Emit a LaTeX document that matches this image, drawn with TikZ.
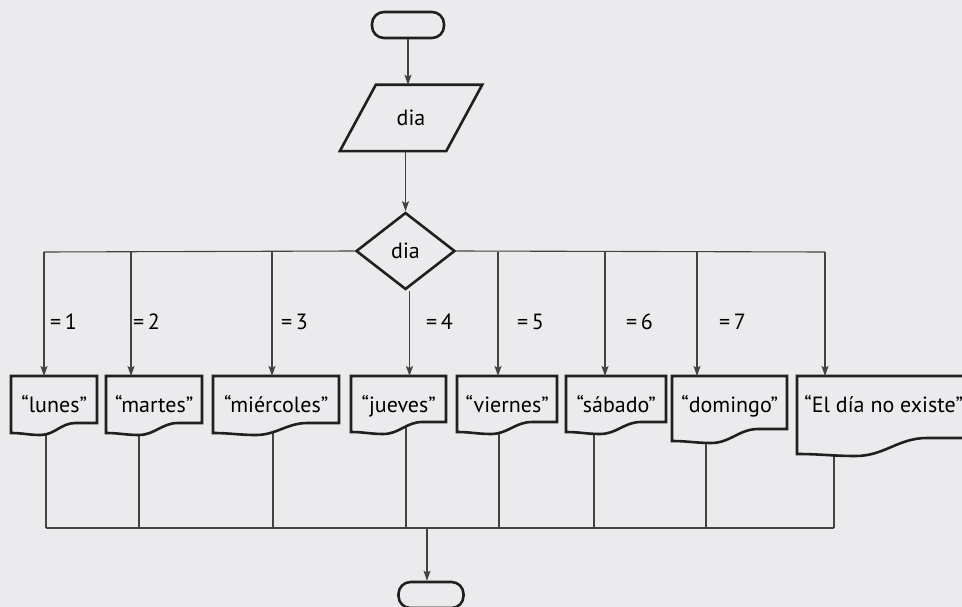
\documentclass[tikz,border=0pt]{standalone}
\usepackage{fontspec}
\setmainfont{PT Sans}
\usetikzlibrary{shapes.geometric,arrows.meta,calc}
\definecolor{fondo}{RGB}{235,235,237}
\definecolor{trazo}{RGB}{35,31,32}
\pgfdeclarelayer{background}
\pgfsetlayers{background,main}
\tikzset{
  forma/.style={draw=trazo,line width=2.6pt},
  linea/.style={draw=trazo!85,line width=1.1pt},
  flecha/.style={linea,-{Stealth[length=10pt,width=7pt,inset=2pt]}},
  terminal/.style={forma,rounded corners=12pt,minimum height=26pt,inner sep=0pt},
  decision/.style={forma,diamond,aspect=1.29,minimum width=99pt,minimum height=77pt,inner sep=0pt},
  salida/.style={anchor=north west,inner sep=0pt,minimum height=47pt,text height=27pt,text depth=2pt},
  caso/.style={anchor=west,inner sep=0pt}
}
% nombre, x izq, x der, caida der, caida extra izq, texto
\newcommand{\docsalida}[6]{%
  \pgfmathsetmacro\docxr{#2+0.75*(#3-#2)}
  \pgfmathsetmacro\docxd{#2+0.34*(#3-#2)}
  \pgfmathsetmacro\docyr{376+#4}
  \pgfmathsetmacro\docyd{376+#4+#5+2}
  \pgfmathsetmacro\docyl{376+#4+#5}
  \pgfmathsetmacro\docw{#3-#2}
  \draw[forma,fill=fondo] (#2,376) -- (#3,376) -- (#3,\docyr) -- (\docxr,\docyr)
    to[out=180,in=0] (\docxd,\docyd) to[out=180,in=0] (#2,\docyl) -- cycle;
  \node[salida,minimum width=\docw pt] (#1) at (#2,376) {#6};
}
\begin{document}
\begin{tikzpicture}[x=1pt,y=-1pt,font=\fontsize{22}{26}\selectfont]
  \begin{pgfonlayer}{background}
    \fill[fondo] (0,0) rectangle (962,607);
  \end{pgfonlayer}
  \useasboundingbox (0,0) rectangle (962,607);

  \node[terminal,minimum width=72pt] (inicio) at (408,25) {};
  \node[minimum width=106pt,minimum height=66pt,inner sep=0pt] (entrada) at (411,118) {dia};
  \draw[forma] ($(entrada.north west)+(18,0)$) -- ($(entrada.north east)+(18,0)$)
    -- ($(entrada.south east)+(-18,0)$) -- ($(entrada.south west)+(-18,0)$) -- cycle;
  \node[decision] (cond) at (405.5,251) {dia};

  \docsalida{lunes}{11}{97}{47}{10}{“lunes”}
  \docsalida{martes}{106}{202}{47}{10}{“martes”}
  \docsalida{miercoles}{213}{339}{47}{10}{“miércoles”}
  \docsalida{jueves}{351}{446}{46}{10}{“jueves”}
  \docsalida{viernes}{457}{557}{46}{10}{“viernes”}
  \docsalida{sabado}{566}{666}{46}{10}{“sábado”}
  \docsalida{domingo}{672}{787}{53}{12}{“domingo”}
  \docsalida{otro}{797}{970}{62}{16}{“El día no existe”}

  \node[terminal,minimum width=65pt] (fin) at (431,595) {};

  \draw[flecha] (inicio) -- (inicio |- entrada.north);
  \draw[flecha] (cond.north |- entrada.south) -- (cond.north);

  \coordinate (a1) at (44,252);
  \coordinate (a2) at (131,252);
  \coordinate (a3) at (272,252);
  \coordinate (a5) at (498,252);
  \coordinate (a6) at (605,252);
  \coordinate (a7) at (697,252);
  \coordinate (a8) at (825,252);
  \draw[linea] (a1) -- (cond.west) (cond.east) -- (a8);
  \draw[flecha] (a1) -- (a1 |- lunes.north);
  \draw[flecha] (a2) -- (a2 |- martes.north);
  \draw[flecha] (a3) -- (a3 |- miercoles.north);
  \draw[flecha] ($(cond.south)+(4,0)$) -- ($(cond.south |- jueves.north)+(4,0)$);
  \draw[flecha] (a5) -- (a5 |- viernes.north);
  \draw[flecha] (a6) -- (a6 |- sabado.north);
  \draw[flecha] (a7) -- (a7 |- domingo.north);
  \draw[flecha] (a8) -- (a8 |- otro.north);

  \node[caso] (c1) at (50,322) {=\,1};
  \node[caso] (c2) at (133,322) {=\,2};
  \node[caso] (c3) at (281,322) {=\,3};
  \node[caso] (c4) at (426,322) {=\,4};
  \node[caso] (c5) at (517,322) {=\,5};
  \node[caso] (c6) at (626,322) {=\,6};
  \node[caso] (c7) at (719,322) {=\,7};

  \coordinate (b1) at (46,528);
  \coordinate (b2) at (139,528);
  \coordinate (b3) at (273,528);
  \coordinate (b4) at (406,528);
  \coordinate (b5) at (499,528);
  \coordinate (b6) at (594,528);
  \coordinate (b7) at (706,528);
  \coordinate (b8) at (834,528);
  \coordinate (m) at (427,528);
  \begin{pgfonlayer}{background}
    \draw[linea] (b1) -- (b1 |- lunes.south);
    \draw[linea] (b2) -- (b2 |- martes.south);
    \draw[linea] (b3) -- (b3 |- miercoles.south);
    \draw[linea] (b4) -- (b4 |- jueves.south);
    \draw[linea] (b5) -- (b5 |- viernes.south);
    \draw[linea] (b6) -- (b6 |- sabado.south);
    \draw[linea] (b7) -- (b7 |- domingo.south);
    \draw[linea] (b8) -- (b8 |- otro.south);
  \end{pgfonlayer}
  \draw[linea] (b1) -- (b8);
  \draw[flecha] (m) -- (m |- fin.north);
\end{tikzpicture}
\end{document}
